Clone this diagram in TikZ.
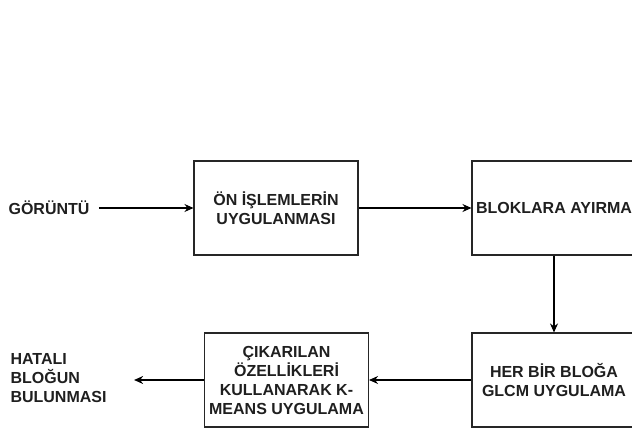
\documentclass[tikz,border=0pt]{standalone}
\usepackage{fontspec}
\setmainfont{Liberation Sans}
\usetikzlibrary{arrows.meta}
\begin{document}
\begin{tikzpicture}[x=1pt, y=-1pt, line width=1.1pt, >={Stealth[length=9pt, width=8pt]},
    lbl/.style={font=\fontsize{16}{19}\selectfont\bfseries, text=black!88, inner sep=0pt},
    blok/.style={lbl, draw=black!85, minimum width=164pt, minimum height=94pt, align=center}]
  \useasboundingbox (0,0) rectangle (632,428);
  \clip (0,0) rectangle (632,428);
  \node[lbl] (goruntu) at (49,208) {GÖRÜNTÜ};
  \node[blok] (onislem) at (276,208) {ÖN İŞLEMLERİN\\UYGULANMASI};
  \node[blok] (ayirma) at (554,208) {BLOKLARA AYIRMA};
  \node[blok] (glcm) at (554,380) {HER BİR BLOĞA\\GLCM UYGULAMA};
  \node[blok] (kmeans) at (286.5,380) {ÇIKARILAN\\ÖZELLİKLERİ\\KULLANARAK K-\\MEANS UYGULAMA};
  \node[lbl, anchor=west, align=left] (hatali) at (10,378) {HATALI\\BLOĞUN\\BULUNMASI};
  \draw[->, shorten <=9pt] (goruntu) -- (onislem);
  \draw[->] (onislem) -- (ayirma);
  \draw[->] (ayirma) -- (glcm);
  \draw[->] (glcm) -- (kmeans);
  \draw[->, shorten >=27pt] (kmeans.west) -- (kmeans.west -| hatali.east);
\end{tikzpicture}
\end{document}
